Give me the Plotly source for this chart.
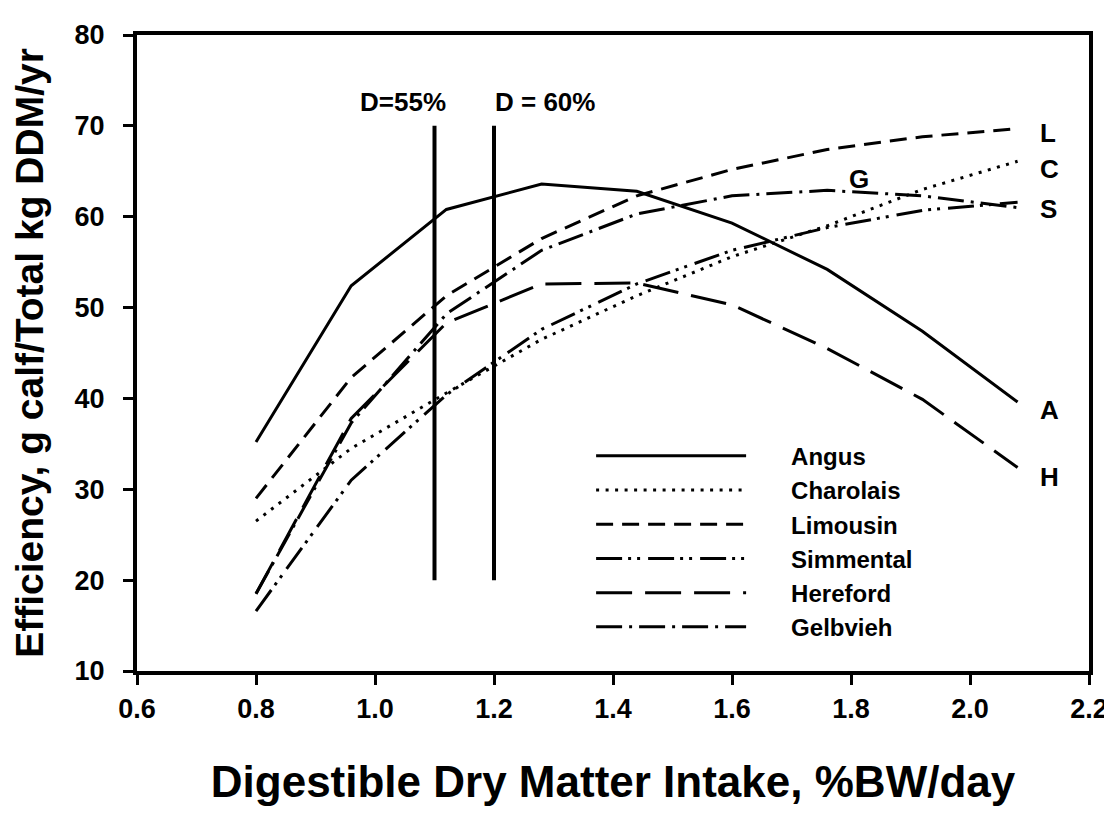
import plotly.graph_objects as go

# Digestible dry matter intake, %BW/day
x_dmi = [0.8, 0.96, 1.12, 1.28, 1.44, 1.6, 1.76, 1.92, 2.08]

# Efficiency, g calf / total kg DDM / yr
angus = [35.2, 52.4, 60.8, 63.6, 62.8, 59.3, 54.2, 47.4, 39.6]
charolais = [26.5, 34.5, 40.6, 46.5, 51.3, 55.6, 59.0, 63.0, 66.1]
limousin = [29.0, 42.3, 51.3, 57.6, 62.3, 65.2, 67.4, 68.8, 69.7]
simmental = [16.6, 31.0, 40.4, 47.6, 52.6, 56.3, 58.8, 60.7, 61.6]
hereford = [18.5, 37.8, 48.3, 52.6, 52.7, 50.3, 45.5, 39.9, 32.4]
gelbvieh = [18.5, 37.3, 49.3, 56.3, 60.3, 62.3, 62.9, 62.3, 61.0]

breeds = ["Angus", "Charolais", "Limousin", "Simmental", "Hereford", "Gelbvieh"]

# Digestibility reference lines
d_lines_x = [1.1, 1.2]
d_lines_y = [20, 70]
d_labels = ["D=55%", "D = 60%"]

# End-of-curve letters
end_letters = ["L", "C", "S", "A", "H", "G"]
end_letters_x = [2.115, 2.115, 2.115, 2.115, 2.115, 1.813]
end_letters_y = [69.2, 65.2, 60.8, 38.7, 31.4, 64.1]

FONT = "Liberation Sans, Arial, Helvetica, sans-serif"

series = [angus, charolais, limousin, simmental, hereford, gelbvieh]
dashes = ["solid", "3px,6.5px", "17px,9px", "26px,6px,3px,6px,3px,8px",
          "36px,13px", "26px,7px,3px,7px"]

fig = go.Figure()
pad = "\u00a0" * 6
for name, ys, dash in zip(breeds, series, dashes):
    fig.add_trace(go.Scatter(
        x=x_dmi, y=ys, mode="lines", name=pad + name,
        line=dict(color="black", width=3, dash=dash),
    ))

for xv in d_lines_x:
    fig.add_trace(go.Scatter(
        x=[xv, xv], y=d_lines_y, mode="lines", showlegend=False,
        line=dict(color="black", width=4), hoverinfo="skip",
    ))

annos = []
annos.append(dict(x=d_lines_x[0] + 0.022, y=72.6, text=d_labels[0], xanchor="right",
                  yanchor="middle", showarrow=False))
annos.append(dict(x=d_lines_x[1] - 0.002, y=72.6, text=d_labels[1], xanchor="left",
                  yanchor="middle", showarrow=False))
for t, xv, yv in zip(end_letters, end_letters_x, end_letters_y):
    annos.append(dict(x=xv, y=yv, text=t, xanchor="left" if t != "G" else "center",
                      yanchor="middle", showarrow=False))
for a in annos:
    a["font"] = dict(family=FONT, size=26, color="black", weight="bold")
    a["xref"] = "x"
    a["yref"] = "y"

axis_common = dict(
    showline=True, linecolor="black", linewidth=4, mirror=True,
    ticks="outside", ticklen=10, tickwidth=3, tickcolor="black",
    showgrid=False, zeroline=False,
    tickfont=dict(family=FONT, size=27, color="black", weight="bold"),
)

fig.update_layout(
    width=1112, height=815,
    margin=dict(l=129, r=23, t=20, b=152),
    paper_bgcolor="white", plot_bgcolor="white",
    annotations=annos,
    xaxis=dict(range=[0.6, 2.2], tickmode="array",
               tickvals=[0.6, 0.8, 1.0, 1.2, 1.4, 1.6, 1.8, 2.0, 2.2],
               ticktext=["0.6", "0.8", "1.0", "1.2", "1.4", "1.6", "1.8", "2.0", "2.2"],
               ticklabelstandoff=1,
               title=dict(text="Digestible Dry Matter Intake, %BW/day", standoff=44,
                          font=dict(family=FONT, size=44, color="black", weight="bold")),
               **axis_common),
    yaxis=dict(range=[10, 80], tickmode="array",
               tickvals=[10, 20, 30, 40, 50, 60, 70, 80],
               ticklabelstandoff=13,
               title=dict(text="Efficiency, g calf/Total kg DDM/yr", standoff=20,
                          font=dict(family=FONT, size=39, color="black", weight="bold")),
               **axis_common),
    legend=dict(x=0.477, y=0.373, xanchor="left", yanchor="top",
                font=dict(family=FONT, size=24, color="black", weight="bold"),
                itemwidth=150, bgcolor="rgba(0,0,0,0)", borderwidth=0,
                tracegroupgap=0),
    showlegend=True,
)

fig.write_html("out.html")
